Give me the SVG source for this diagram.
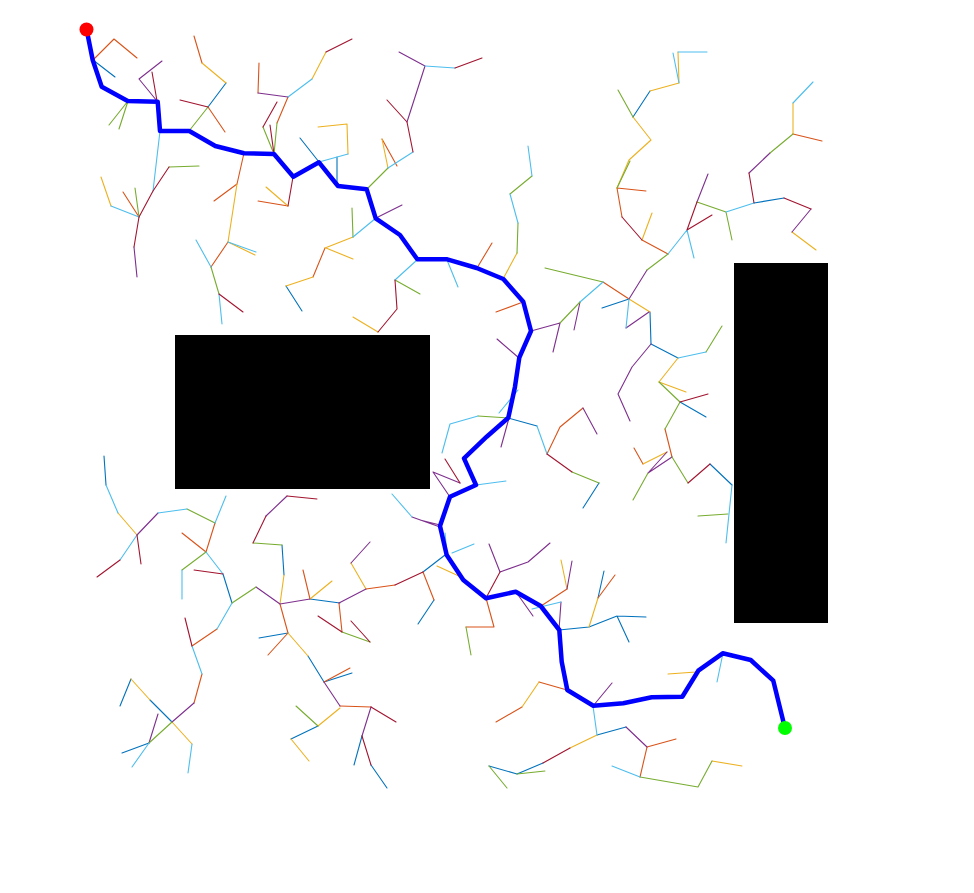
<svg xmlns="http://www.w3.org/2000/svg" width="974" height="893" viewBox="0 0 974 893">
<style>
.t{fill:none;stroke-width:1.1;stroke-linecap:round;stroke-linejoin:round}
.b{stroke:#0072BD}.o{stroke:#D95319}.y{stroke:#EDB120}.p{stroke:#7E2F8E}.g{stroke:#77AC30}.l{stroke:#4DBEEE}.r{stroke:#A2142F}
.obs{fill:#000}
</style>
<rect width="974" height="893" fill="#fff"/>
<g id="obstacles">
<rect id="obstacle1" class="obs" x="175" y="335" width="255" height="154"/>
<rect id="obstacle2" class="obs" x="734" y="263" width="94" height="360"/>
</g>
<g id="tree">
<path class="t b" d="M93 60L115 77M208 107L226 83M286 286L302 311M319 162L300 138M337 157L337 186M629 299L602 308M650 312L651 344L678 358M680 402L706 417M710 464L732 485M537 426L508 418M599 483L583 508M650 91L633 117M754 203L784 198M104 456L106 485M223 574L232 603M172 722L150 700M131 679L120 706M149 743L122 753M282 545L284 575M310 599L340 603M288 633L259 638M308 656L324 682M324 682L352 673M318 726L291 739M362 736L354 765M371 765L387 788M445 555L423 572M434 600L418 624M559 630L589 627L617 616L646 617M617 616L629 642M598 598L604 571M489 766L517 774M517 774L543 763M597 735L626 727"/>
<path class="t o" d="M93 60L114 39L137 58M139 217L123 192M208 107L225 132M202 63L194 36M244 153L237 184L214 201M228 242L211 267M277 123L288 97M258 93L259 63M288 206L258 201M325 248L313 277M382 139L397 166M477 268L492 243M603 282L629 299M617 188L646 191M617 188L622 217M642 240L668 254M793 134L822 141M665 429L672 457M634 448L643 464M583 408L560 427L547 454M523 302L496 312M215 523L206 552L182 533M217 629L192 646M202 674L194 703M310 599L303 570M280 604L288 633L268 655M324 682L350 668M340 706L371 707M395 585L366 589M423 572L434 600M486 598L494 627L466 627M541 606L567 589M598 598L615 575M567 690L539 682M522 707L496 722M647 747L676 739M647 747L640 777M339 603L342 632"/>
<path class="t y" d="M111 206L101 177M226 83L202 63M237 184L228 242L255 255M312 79L326 52M288 206L266 187M348 154L347 124L318 127M325 248L353 237M326 248L353 259M313 277L286 286M388 168L382 139M378 332L353 317M503 279L517 253M629 299L650 312M659 382L686 392M678 358L659 382M643 464L667 452M678 52L679 83L650 91M633 117L651 140L629 160L617 188M642 240L652 213M793 134L793 103M792 232L816 250M118 513L137 535M150 700L131 679M172 722L192 744M284 575L280 604M310 599L332 581M288 633L308 656M318 726L340 708M291 739L309 761M366 589L351 563M437 566L461 577M567 589L561 560M589 627L598 598M539 682L522 707M570 748L597 735M712 761L742 766M696 672L668 674"/>
<path class="t p" d="M157 101L139 79L162 61M134 247L137 277M288 97L258 93M425 66L399 52M407 122L425 66M376 218L402 205M626 328L649 312M672 457L648 473L667 452M651 344L632 367L618 394L630 421M629 299L647 270M560 323L531 331M560 323L553 352M580 302L574 330M583 408L597 434M509 418L501 447M519 358L497 339M450 497L433 472L460 483M440 527L412 517M697 202L708 174M749 173L770 153M811 209L792 232M137 535L158 513M256 587L280 604M194 703L172 722M149 743L158 714M266 516L287 496M280 604L310 599M324 682L340 706M371 707L362 736M420 520L440 525M351 563L370 542M366 589L339 603M500 572L489 544M500 572L528 562L550 543M516 592L533 616M567 589L572 561M561 602L559 630M626 727L647 747M593 706L612 683"/>
<path class="t g" d="M128 101L109 125M128 101L119 129M169 167L199 166M139 217L135 188M189 131L208 107M211 267L219 294M274 154L263 127M274 154L277 123M353 237L352 208M367 189L388 168M395 280L420 294M517 253L518 223M510 194L532 176M545 268L603 282M706 352L722 326M659 382L680 402L665 429M648 473L633 500M672 457L688 483M698 516L728 514M580 302L560 323M572 472L599 483M509 418L478 416M633 117L618 90M630 161L617 188M647 270L668 254M697 202L726 212L732 240M770 153L793 134M187 509L215 523M206 552L182 570M232 603L256 587M172 722L149 743M253 543L282 545M296 706L318 726M342 632L370 642M466 627L471 655M489 766L507 788M517 774L545 771M640 777L698 787L712 761"/>
<path class="t l" d="M160 131L153 191M139 217L111 206M228 242L256 252M211 267L196 240M219 294L222 324M288 97L312 79M319 162L348 154M353 237L376 218M388 168L413 152M425 66L455 68M417 260L395 280M447 260L458 287M518 223L510 194M532 176L528 146M629 299L626 328M678 358L706 352M732 485L726 543M603 282L580 302M547 454L537 426M478 416L450 424L442 453M499 413L518 390M476 485L506 481M412 517L392 494M678 52L707 52M673 53L679 83M668 254L687 230L694 258M726 212L754 203M793 103L813 82M106 485L118 513M158 513L187 509M215 523L226 496M137 535L120 560M182 570L182 599M206 552L223 574M232 603L217 629M192 646L202 674M192 744L188 773M149 743L132 767M447 555L445 533M452 553L474 544M532 609L561 602M597 735L593 706M640 777L612 766M723 653L717 682"/>
<path class="t r" d="M157 101L152 72M153 191L169 167M153 191L139 217L134 247M208 107L180 100M219 294L243 312M263 127L277 102M274 154L270 125M326 52L352 39M293 177L288 206M413 152L407 122L387 100M455 68L482 58M395 280L397 309L378 332M687 230L712 215M687 230L697 202M754 203L749 173M784 198L811 209M680 402L708 394M688 483L710 464M445 459L460 483M547 454L572 472M622 217L642 240M120 560L97 577M137 535L141 564M223 574L194 570M192 646L185 618M287 496L317 499M266 516L253 543M318 616L342 632M370 642L351 621M371 707L396 722M362 736L371 765M423 572L395 585M486 598L500 572M543 763L570 748"/>
</g>
<g id="connectors">
<polyline id="path" fill="none" stroke="#0000FF" stroke-width="4.5" stroke-linejoin="round" stroke-linecap="round" points="86.7,30 92.7,60 101.7,86.7 127.7,101 157.7,101.7 160,131 189.3,131 215.3,146 244,153.3 274,154 293.3,176.7 319,162.3 338,186 366.7,189.3 375.7,218.3 400,235 417.3,259.3 447.3,259.3 476.7,268 503.3,279 523.3,301.7 531,331 519.3,357.7 515,386.7 508.3,417.7 486.7,436.7 464,458.3 476,485 450,496.7 440,526 446.7,555 463.3,580 486,598.3 515.7,591.7 540.7,606 559.3,630 561.7,661.7 567.3,690 593.3,705.7 623.3,703.3 651.7,697.3 682.3,696.7 698.3,670.7 722.7,653.3 750.7,660 773.3,680.7 785,728.3"/>
</g>
<g id="start"><circle cx="86.5" cy="29.5" r="7" fill="#FF0000"/></g>
<g id="goal"><circle cx="785" cy="728" r="7" fill="#00FF00"/></g>
</svg>
